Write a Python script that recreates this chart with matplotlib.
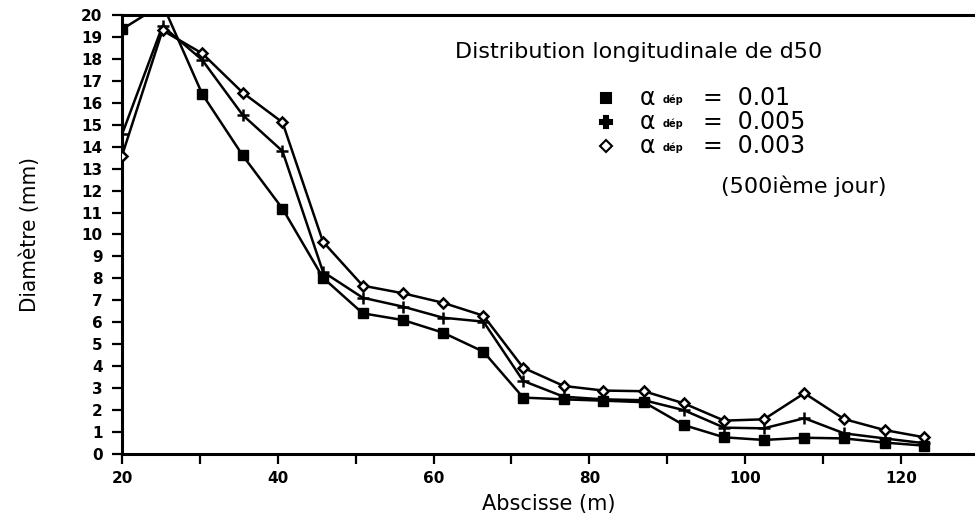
import matplotlib
matplotlib.use("Agg")
import matplotlib.pyplot as plt
from matplotlib.ticker import MultipleLocator

# ---- data ----
abscisse = [20, 25.2, 30.3, 35.5, 40.6, 45.8, 50.9, 56.1, 61.2, 66.4, 71.5,
            76.7, 81.8, 87.0, 92.1, 97.3, 102.4, 107.6, 112.7, 117.9, 123.0]
d50_001 = [19.35, 20.5, 16.4, 13.6, 11.18, 8.03, 6.41, 6.1, 5.53, 4.66, 2.57,
           2.49, 2.43, 2.36, 1.32, 0.76, 0.64, 0.74, 0.71, 0.52, 0.38]
d50_0005 = [14.56, 19.5, 17.95, 15.44, 13.8, 8.3, 7.12, 6.71, 6.21, 6.03, 3.33,
            2.61, 2.49, 2.45, 2.0, 1.2, 1.17, 1.63, 0.94, 0.71, 0.49]
d50_0003 = [13.59, 19.3, 18.25, 16.46, 15.11, 9.67, 7.67, 7.32, 6.89, 6.3, 3.93,
            3.1, 2.89, 2.86, 2.31, 1.52, 1.58, 2.77, 1.59, 1.09, 0.76]
legend_values = ["0.01", "0.005", "0.003"]
x_ticks = [20, 40, 60, 80, 100, 120]
y_ticks = list(range(0, 21))

fig = plt.figure(figsize=(9.75, 5.2), dpi=100)
ax = fig.add_axes([122 / 975, 1 - 454 / 520, 1 - 122 / 975, (454 - 15) / 520])

ax.plot(abscisse, d50_001, color="black", lw=1.8, marker="s", ms=7.5,
        mfc="black", mec="black", clip_on=True, zorder=3)
ax.plot(abscisse, d50_0005, color="black", lw=1.8, marker="+", ms=9,
        mew=1.8, clip_on=True, zorder=3)
ax.plot(abscisse, d50_0003, color="black", lw=1.8, marker="D", ms=5.5,
        mfc="white", mec="black", mew=1.8, clip_on=True, zorder=3)

ax.set_xlim(20, 129.5)
ax.set_ylim(0, 20)
ax.set_xticks(x_ticks)
ax.xaxis.set_minor_locator(MultipleLocator(10))
ax.set_yticks(y_ticks)

for s in ["left", "bottom", "top"]:
    ax.spines[s].set_linewidth(2.2)
ax.spines["right"].set_visible(False)

ax.tick_params(axis="both", which="major", direction="out", length=7, width=1.6,
               labelsize=11)
ax.tick_params(axis="x", which="minor", direction="out", length=7, width=1.6)
ax.tick_params(axis="y", pad=7)
ax.tick_params(axis="x", pad=5)
for lbl in ax.get_xticklabels() + ax.get_yticklabels():
    lbl.set_fontweight("bold")

ax.set_xlabel("Abscisse (m)", fontsize=15, labelpad=6)
ax.set_ylabel("Diamètre (mm)", fontsize=16, labelpad=30,
              family="DejaVu Sans", stretch="condensed")

# legend block as text
tf = ax.transAxes
def fx(px):
    return (px - 122) / (975 - 122)
def fy(py):
    return (454 - py) / (454 - 15)

ax.text(fx(639), fy(52), "Distribution longitudinale de d50", transform=tf,
        fontsize=16, ha="center", va="center")
markers = [("s", "black", 7), ("P", "black", 8), ("D", "white", 6)]
for i, (val, (m, fc, sz)) in enumerate(zip(legend_values, markers)):
    yy = fy(98 + 24 * i)
    ax.plot([fx(606)], [yy], marker=m, ms=sz, mfc=fc, mec="black", mew=1.5,
            transform=tf, clip_on=False, ls="none")
    ax.text(fx(640), yy, "α", transform=tf, fontsize=17, ha="left", va="center")
    ax.text(fx(663), yy - 0.005, "dép", transform=tf, fontsize=7, ha="left",
            va="center", fontweight="bold")
    ax.text(fx(703), yy, "=  " + val, transform=tf, fontsize=17, ha="left",
            va="center")
ax.text(fx(804), fy(186), "(500ième jour)", transform=tf, fontsize=16,
        ha="center", va="center")

fig.savefig("out.png", dpi=100)
